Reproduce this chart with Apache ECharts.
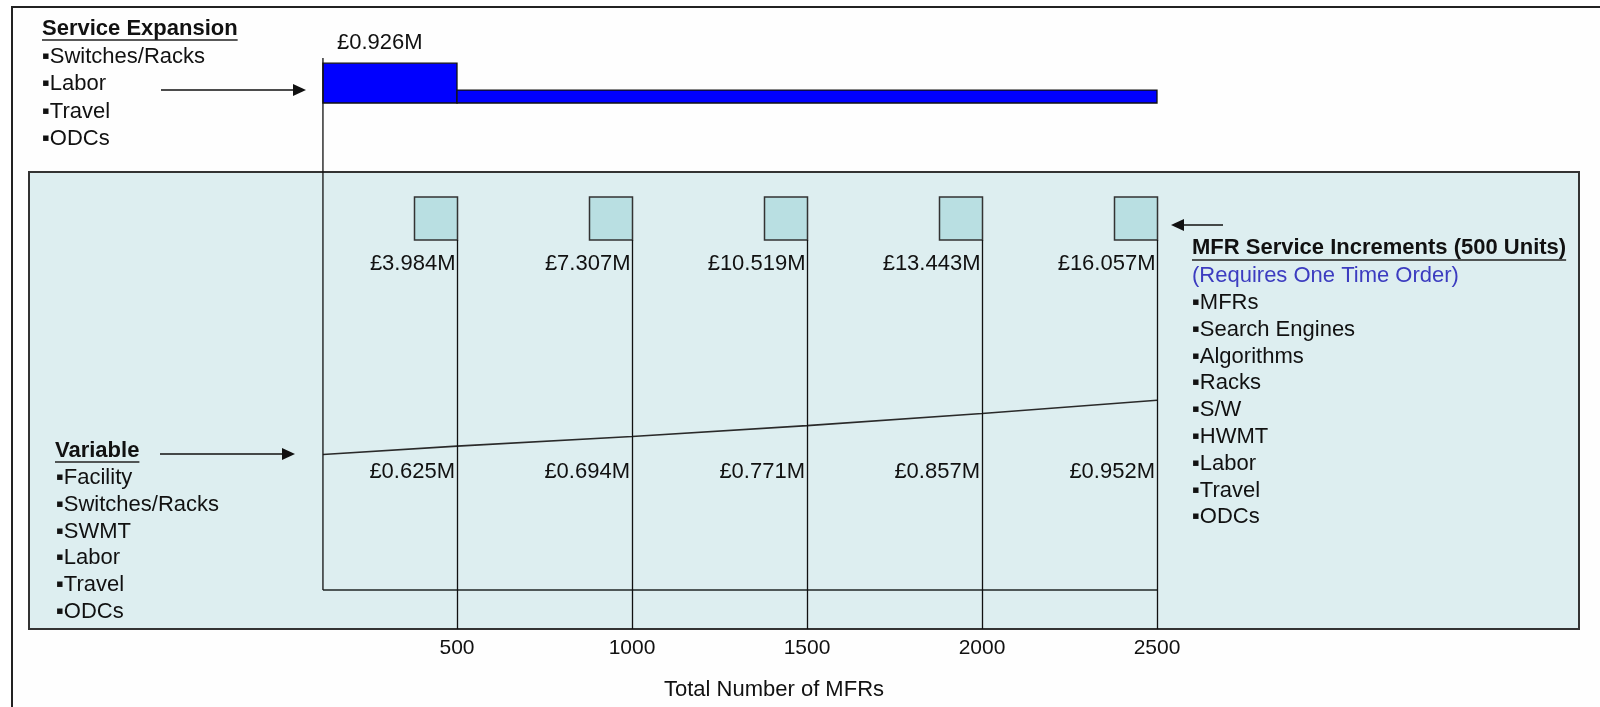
<!DOCTYPE html>
<html>
<head>
<meta charset="utf-8">
<script src="https://cdn.jsdelivr.net/npm/echarts@6/dist/echarts.min.js"></script>
<style>html,body{margin:0;padding:0;background:#fff}#c{width:1600px;height:707px}</style>
</head>
<body>
<div id="c"></div>
<script>
// ================= DATA =================
const startMFR = 117;                                // where the cost lines begin on the MFR axis
const expansionFrom = [117, 500];                    // service expansion step: start of each segment (MFRs)
const expansionTo = [500, 2500];                     // end of each segment (MFRs)
const expansionCost = [0.926, 0.30];                 // £M (second step unlabeled, estimated)
const expansionLabels = ['£0.926M', ''];
const incrementMFRs = [500, 1000, 1500, 2000, 2500];
const incrementCost = [3.984, 7.307, 10.519, 13.443, 16.057];   // £M
const variableMFRs = [117, 500, 1000, 1500, 2000, 2500];
const variableCost = [0.565, 0.625, 0.694, 0.771, 0.857, 0.952]; // £M (first point unlabeled, estimated)
const tickValues = [500, 1000, 1500, 2000, 2500];
const xAxisTitle = 'Total Number of MFRs';
const expansionTitle = 'Service Expansion';
const expansionItems = ['Switches/Racks', 'Labor', 'Travel', 'ODCs'];
const variableTitle = 'Variable';
const variableItems = ['Facility', 'Switches/Racks', 'SWMT', 'Labor', 'Travel', 'ODCs'];
const incrementTitle = 'MFR Service Increments (500 Units)';
const incrementNote = '(Requires One Time Order)';
const incrementItems = ['MFRs', 'Search Engines', 'Algorithms', 'Racks', 'S/W', 'HWMT', 'Labor', 'Travel', 'ODCs'];

// ================= LAYOUT / STYLE =================
const FF = '"Liberation Sans", Arial, sans-serif';
const F_LABEL = '22px ' + FF;
const F_ITEM = '22px ' + FF;
const F_TITLE = 'bold 22px ' + FF;
const GRID_LEFT = 282, GRID_W = 875;
const GRID_B_TOP = 197, GRID_B_BOTTOM = 590;
const Y_MIN = -0.4, Y_MAX = 2.4;
const PANEL = {x: 29, y: 172, w: 1550, h: 457};
const BOX_W = 43, BOX_H = 43;

function textW(t, font) {
  const c = document.createElement('canvas').getContext('2d');
  c.font = font; return c.measureText(t).width;
}

const graphics = [];
// outer frame and shaded panel
graphics.push({type: 'rect', z: -10, shape: {x: 12, y: 7, width: 1620, height: 740},
  style: {fill: '#fefefe', stroke: '#222', lineWidth: 2}});
graphics.push({type: 'rect', z: -9, shape: {x: PANEL.x, y: PANEL.y, width: PANEL.w, height: PANEL.h},
  style: {fill: '#ddeef0', stroke: '#333', lineWidth: 2}});

function addTitle(t, x, y, ulY) {
  graphics.push({type: 'text', z: 10, style: {text: t, x: x, y: y, font: F_TITLE, fill: '#111', verticalAlign: 'middle'}});
  graphics.push({type: 'line', z: 10, shape: {x1: x, y1: ulY, x2: x + textW(t, F_TITLE), y2: ulY},
    style: {stroke: '#222', lineWidth: 1.5}});
}
function addList(items, x, y0, dy) {
  items.forEach((t, i) => graphics.push({type: 'text', z: 10,
    style: {text: '\u25AA' + t, x: x, y: y0 + i * dy, font: F_ITEM, fill: '#111', verticalAlign: 'middle'}}));
}
function addArrow(x1, x2, y) {
  const dir = x2 > x1 ? 1 : -1;
  graphics.push({type: 'line', z: 10, shape: {x1: x1, y1: y, x2: x2 - dir * 8, y2: y}, style: {stroke: '#111', lineWidth: 1.5}});
  graphics.push({type: 'polygon', z: 10, shape: {points: [[x2, y], [x2 - dir * 13, y - 6], [x2 - dir * 13, y + 6]]},
    style: {fill: '#111'}});
}

addTitle(expansionTitle, 42, 29, 40);
addList(expansionItems, 42, 57, 27.3);
addArrow(161, 306, 90);

addTitle(variableTitle, 55, 451, 462);
addList(variableItems, 56, 478, 26.8);
addArrow(160, 295, 454);

addTitle(incrementTitle, 1192, 248, 260);
graphics.push({type: 'text', z: 10, style: {text: incrementNote, x: 1192, y: 276, font: F_ITEM, fill: '#3c3cc0', verticalAlign: 'middle'}});
addList(incrementItems, 1192, 303, 26.8);
addArrow(1223, 1171, 225);

// ================= CHART =================
const chart = echarts.init(document.getElementById('c'), null, {renderer: 'canvas'});

const option = {
  animation: false,
  backgroundColor: '#ffffff',
  graphic: graphics,
  grid: [
    {left: GRID_LEFT, width: GRID_W, top: 60, height: 43},
    {left: GRID_LEFT, width: GRID_W, top: GRID_B_TOP, height: GRID_B_BOTTOM - GRID_B_TOP}
  ],
  xAxis: [
    {gridIndex: 0, type: 'value', min: 0, max: 2500, show: false},
    {gridIndex: 1, type: 'value', min: 0, max: 2500, interval: 500,
      axisLine: {show: false}, axisTick: {show: false}, splitLine: {show: false},
      axisLabel: {margin: 48, color: '#111', fontSize: 21, fontFamily: FF,
        formatter: v => tickValues.indexOf(v) >= 0 ? String(v) : ''},
      name: xAxisTitle, nameLocation: 'middle', nameGap: 89,
      nameTextStyle: {color: '#111', fontSize: 22, fontFamily: FF, padding: [0, 0, 0, 109]}}
  ],
  yAxis: [
    {gridIndex: 0, type: 'value', min: 0, max: 1, show: false},
    {gridIndex: 1, type: 'value', min: Y_MIN, max: Y_MAX, show: false}
  ],
  series: [
    { // service expansion step bars
      type: 'custom', xAxisIndex: 0, yAxisIndex: 0, silent: true, z: 5,
      data: expansionFrom.map((f, i) => [f, expansionTo[i], expansionCost[i]]),
      renderItem: function (params, api) {
        const tl = api.coord([api.value(0), api.value(2)]);
        const br = api.coord([api.value(1), 0]);
        const ch = [{type: 'rect', shape: {x: tl[0], y: tl[1], width: br[0] - tl[0], height: br[1] - tl[1]},
          style: {fill: '#0000ff', stroke: '#111', lineWidth: 1.3}}];
        const lab = expansionLabels[params.dataIndex];
        if (lab) ch.push({type: 'text', style: {text: lab, x: tl[0] + 14, y: tl[1] - 20,
          align: 'left', verticalAlign: 'middle', font: F_LABEL, fill: '#111'}});
        if (api.value(0) === startMFR) {
          const top = api.coord([startMFR, 1])[1] - 2;
          ch.push({type: 'line', shape: {x1: tl[0], y1: top, x2: tl[0], y2: GRID_B_BOTTOM},
            style: {stroke: '#111', lineWidth: 1.3}});
        }
        return {type: 'group', children: ch};
      }
    },
    { // MFR service increment boxes, drop lines and cost labels
      type: 'custom', xAxisIndex: 1, yAxisIndex: 1, silent: true, z: 5,
      data: incrementMFRs.map((m, i) => [m, incrementCost[i]]),
      renderItem: function (params, api) {
        const cs = params.coordSys;
        const xr = Math.round(api.coord([api.value(0), 0])[0]) + 0.5;
        const top = cs.y;
        return {type: 'group', children: [
          {type: 'rect', shape: {x: xr - BOX_W, y: top, width: BOX_W, height: BOX_H},
            style: {fill: '#b9dfe2', stroke: '#333', lineWidth: 1.5}},
          {type: 'line', shape: {x1: xr, y1: top + BOX_H, x2: xr, y2: PANEL.y + PANEL.h},
            style: {stroke: '#111', lineWidth: 1.3}},
          {type: 'text', style: {text: '£' + api.value(1).toFixed(3) + 'M', x: xr - 2, y: top + 67,
            align: 'right', verticalAlign: 'middle', font: F_LABEL, fill: '#111'}}
        ]};
      }
    },
    { // variable cost line
      type: 'line', xAxisIndex: 1, yAxisIndex: 1, silent: true, clip: false, z: 4,
      data: variableMFRs.map((m, i) => [m, variableCost[i]]),
      symbol: 'none', lineStyle: {color: '#2a2a2a', width: 1.6}
    },
    { // baseline of the variable block
      type: 'line', xAxisIndex: 1, yAxisIndex: 1, silent: true, clip: false, z: 4,
      data: [[variableMFRs[0], Y_MIN], [variableMFRs[variableMFRs.length - 1], Y_MIN]],
      symbol: 'none', lineStyle: {color: '#4f5858', width: 2}
    },
    { // variable cost labels
      type: 'custom', xAxisIndex: 1, yAxisIndex: 1, silent: true, z: 6,
      data: variableMFRs.map((m, i) => [m, variableCost[i]]),
      renderItem: function (params, api) {
        if (api.value(0) === startMFR) return null;
        const x = api.coord([api.value(0), 0])[0];
        const yb = api.coord([api.value(0), Y_MIN])[1];
        return {type: 'text', style: {text: '£' + api.value(1).toFixed(3) + 'M', x: x - 2, y: yb - 118,
          align: 'right', verticalAlign: 'middle', font: F_LABEL, fill: '#111'}};
      }
    }
  ]
};
chart.setOption(option);
</script>
</body>
</html>
